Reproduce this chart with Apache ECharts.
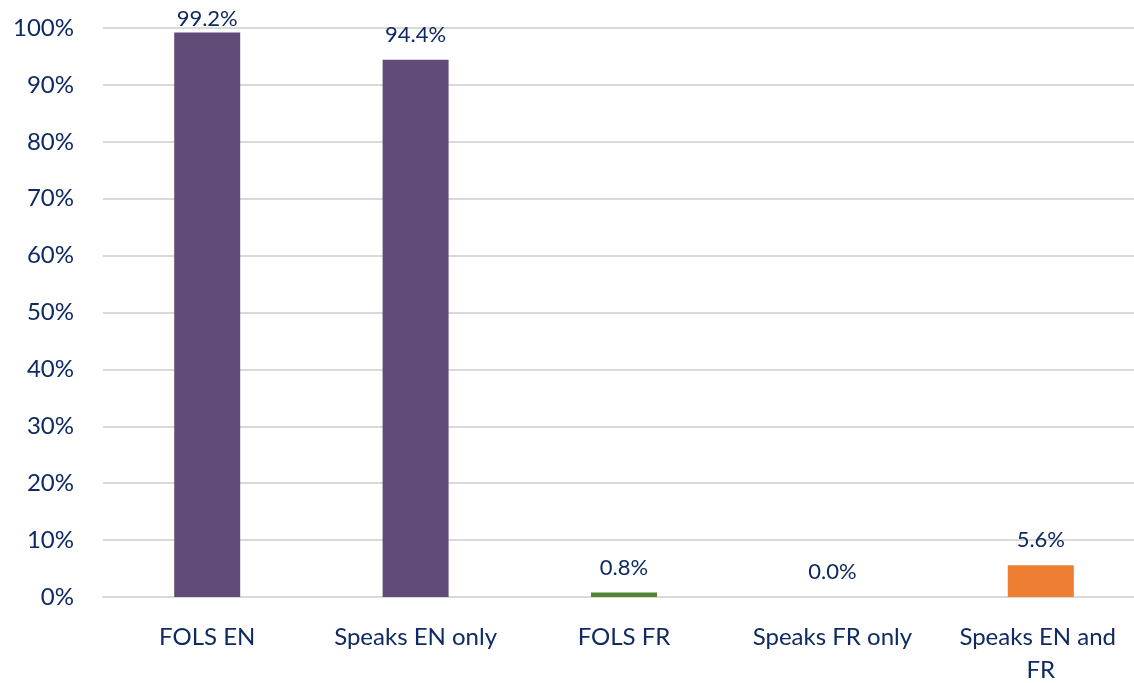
<!DOCTYPE html>
<html>
<head>
  <meta charset="utf-8">
  <title>FOLS</title>
  <script src="https://cdn.jsdelivr.net/npm/echarts@6/dist/echarts.min.js"></script>
</head>
<body style="margin:0;background:#fff;">
  <div id="container" style="width:1134px;height:683px;"></div>
  <script>
    // values
    var categories = ['FOLS EN', 'Speaks EN only', 'FOLS FR', 'Speaks FR only', 'Speaks EN and FR'];
    var values = [99.2, 94.4, 0.8, 0.0, 5.6];
    var barColors = ['#614B79', '#614B79', '#548235', '#614B79', '#ED7D31'];
    var yTicks = [0, 10, 20, 30, 40, 50, 60, 70, 80, 90, 100];

    var textColor = '#0E2A63';
    var font = 'Lato';

    var chart = echarts.init(document.getElementById('container'), null, { renderer: 'canvas' });

    var option = {
      animation: false,
      grid: {
        left: 103, top: 28, width: 1042, height: 569,
        containLabel: false, outerBoundsMode: 'none'
      },
      xAxis: {
        type: 'category',
        data: categories,
        axisLine: { show: true, lineStyle: { color: '#D9D9D9', width: 2 } },
        axisTick: { show: false },
        axisLabel: {
          color: textColor, fontFamily: font, fontSize: 24, margin: 24,
          lineHeight: 33, width: 185, overflow: 'break', interval: 0
        }
      },
      yAxis: {
        type: 'value',
        min: yTicks[0],
        max: yTicks[yTicks.length - 1],
        interval: 10,
        axisLine: { show: false },
        axisTick: { show: false },
        splitLine: { lineStyle: { color: '#D9D9D9', width: 2 } },
        axisLabel: {
          color: textColor, fontFamily: font, fontSize: 24, margin: 29,
          formatter: function (v) { return v + '%'; }
        }
      },
      series: [{
        type: 'bar',
        barWidth: 66,
        data: values.map(function (v, i) {
          var item = { value: v, itemStyle: { color: barColors[i] } };
          if (v > 97) item.label = { distance: 3 };
          return item;
        }),
        label: {
          show: true,
          position: 'top',
          distance: 14,
          color: textColor,
          fontFamily: font,
          fontSize: 22,
          formatter: function (p) { return p.value.toFixed(1) + '%'; }
        }
      }]
    };

    chart.setOption(option);
  </script>
</body>
</html>
